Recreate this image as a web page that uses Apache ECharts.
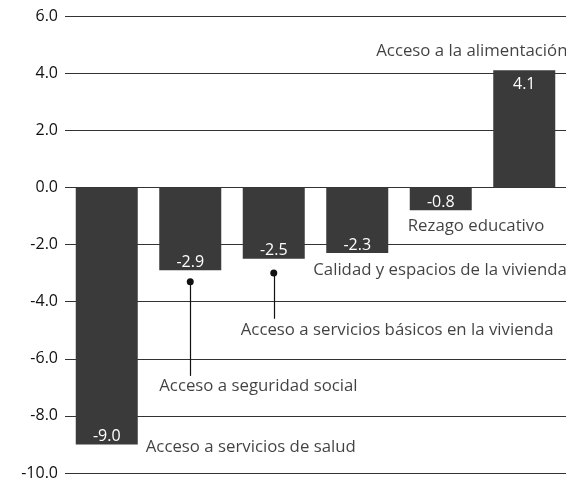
<!DOCTYPE html>
<html>
<head>
<meta charset="utf-8">
<script src="https://cdn.jsdelivr.net/npm/echarts@6/dist/echarts.min.js"></script>
<style>
  html, body { margin: 0; padding: 0; background: #fff; }
  #chart { width: 566px; height: 483px; }
</style>
</head>
<body>
<div id="chart"></div>
<script>
// carencias sociales, cambio en puntos porcentuales
const categories = [
  "Acceso a servicios de salud",
  "Acceso a seguridad social",
  "Acceso a servicios básicos en la vivienda",
  "Calidad y espacios de la vivienda",
  "Rezago educativo",
  "Acceso a la alimentación"
];
const values = [-9.0, -2.9, -2.5, -2.3, -0.8, 4.1];
const yTicks = [-10, -8, -6, -4, -2, 0, 2, 4, 6];

const FONT = "'Open Sans', 'Noto Sans', sans-serif";
const BAR = "#3a3a3a";

// where each category's caption sits (value on y axis, px shift from category centre)
const notes = [
  { y: -9.1, dx: 39 },
  { y: -6.95, dx: -31 },
  { y: -5.0, dx: -33 },
  { y: -2.9, dx: -44 },
  { y: -1.35, dx: -33 },
  { y: 4.75, dx: -148 }
];
// leader lines with a dot under the bar
const leaders = [
  { i: 1, from: -3.3, to: -6.6 },
  { i: 2, from: -3.0, to: -4.6 }
];

const chart = echarts.init(document.getElementById("chart"));

chart.setOption({
  animation: false,
  backgroundColor: "#fff",
  grid: { left: 65, right: 0, top: 16, bottom: 10 },
  xAxis: {
    type: "category",
    data: categories,
    axisLine: { show: false },
    axisTick: { show: false },
    axisLabel: { show: false }
  },
  yAxis: {
    type: "value",
    min: yTicks[0],
    max: yTicks[yTicks.length - 1],
    interval: 2,
    axisLine: { show: false },
    axisTick: { show: false },
    axisLabel: {
      margin: 7,
      color: "#111",
      fontFamily: FONT,
      fontSize: 16,
      formatter: (v) => v.toFixed(1)
    },
    splitLine: { lineStyle: { color: "#333", width: 1 } }
  },
  series: [
    {
      type: "bar",
      barWidth: 62,
      z: 3,
      itemStyle: { color: BAR },
      data: values.map((v) => ({
        value: v,
        label: {
          show: true,
          position: v < 0 ? "insideBottom" : "insideTop",
          distance: v < 0 ? 0 : 6
        }
      })),
      label: {
        color: "#fff",
        fontFamily: FONT,
        fontSize: 16,
        formatter: (p) => p.value.toFixed(1)
      },
      markLine: {
        silent: true,
        symbol: ["circle", "none"],
        symbolSize: 7,
        label: { show: false },
        lineStyle: { color: "#111", type: "solid", width: 1.2 },
        data: leaders.map((l) => [
          { coord: [categories[l.i], l.from] },
          { coord: [categories[l.i], l.to] }
        ])
      }
    },
    {
      type: "scatter",
      symbolSize: 0,
      z: 4,
      silent: true,
      data: notes.map((n, i) => ({
        value: [categories[i], n.y],
        label: { offset: [n.dx, 0] }
      })),
      label: {
        show: true,
        position: "right",
        distance: 0,
        color: "#111",
        fontFamily: FONT,
        fontSize: 16.8,
        formatter: (p) => categories[p.dataIndex]
      }
    }
  ]
});
</script>
</body>
</html>
